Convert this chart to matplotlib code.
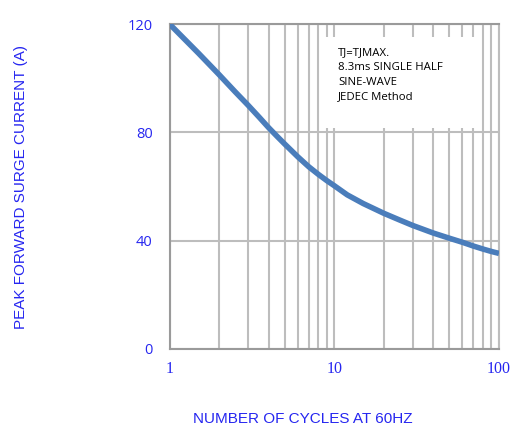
import matplotlib
matplotlib.use('Agg')
import matplotlib.pyplot as plt
from matplotlib.patches import Rectangle

# values
cycles = [1, 1.5, 2, 2.5, 3, 3.5, 4, 4.5, 5, 6, 7, 8, 9, 10, 12, 15, 20, 25, 30, 40, 50, 60, 70, 80, 90, 100]
current = [120, 109.2, 101.3, 95.0, 90.0, 85.6, 81.7, 78.5, 75.7, 71.0, 67.3, 64.5, 62.2, 60.3,
           56.9, 53.7, 50.1, 47.6, 45.6, 42.8, 40.9, 39.4, 38.0, 36.9, 36.0, 35.3]

y_ticks = [0, 40, 80, 120]
x_ticks = [1, 10, 100]
x_tick_labels = ['1', '10', '100']
note = 'TJ=TJMAX.\n8.3ms SINGLE HALF\nSINE-WAVE\nJEDEC Method'

blue = '#2626f0'
grid_c = '#bdbdbd'

fig = plt.figure(figsize=(5.14, 4.28), dpi=100)
ax = fig.add_axes([0.3298, 0.1846, 0.6410, 0.7593])

ax.set_xscale('log')
ax.set_xlim(1, 100)
ax.set_ylim(0, 120)

ax.grid(True, which='both', axis='x', color=grid_c, linewidth=1.5, zorder=1)
ax.grid(True, which='major', axis='y', color=grid_c, linewidth=1.5, zorder=1)
ax.set_axisbelow(True)

# white box behind the note hides the grid
ax.add_patch(Rectangle((0.46, 0.68), 0.476, 0.28, transform=ax.transAxes,
                       facecolor='white', edgecolor='none', zorder=1.5))
ax.text(0.512, 0.928, note, transform=ax.transAxes, fontsize=8.2,
        family='Open Sans', va='top', ha='left', linespacing=1.45, zorder=3)

ax.plot(cycles, current, color='#4a7dbb', linewidth=4, solid_capstyle='butt',
        solid_joinstyle='round', zorder=4)

ax.set_yticks(y_ticks)
ax.set_yticklabels([str(v) for v in y_ticks], color=blue, fontsize=10.5, family='Open Sans')
ax.set_xticks(x_ticks)
ax.set_xticklabels(x_tick_labels, color=blue, fontsize=11.5, family='Liberation Serif')
ax.xaxis.set_minor_formatter(plt.NullFormatter())
ax.tick_params(axis='both', which='both', length=0)
ax.tick_params(axis='y', pad=12)
ax.tick_params(axis='x', pad=9)

for s in ax.spines.values():
    s.set_color('#9a9a9a')
    s.set_linewidth(1.5)
ax.spines['right'].set_color(grid_c)

fig.text(0.04, 0.563, 'PEAK FORWARD SURGE CURRENT (A)', rotation=90, color=blue,
         fontsize=11, family='Liberation Sans', ha='center', va='center')
fig.text(0.589, 0.021, 'NUMBER OF CYCLES AT 60HZ', color=blue,
         fontsize=11, family='Liberation Sans', ha='center', va='center')

plt.savefig('out.png', dpi=100)
